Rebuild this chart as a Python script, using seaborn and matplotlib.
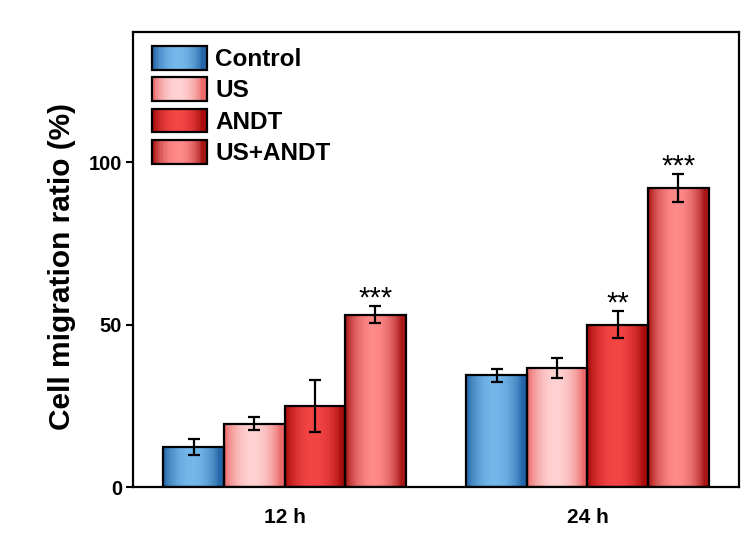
"""
Cell migration ratio bar chart (12 h / 24 h) with shaded cylinder-like bars
"""

import numpy as np
import pandas as pd
import matplotlib
matplotlib.use("Agg")
import matplotlib.pyplot as plt
from matplotlib.patches import Rectangle
from matplotlib.legend_handler import HandlerBase
import seaborn as sns

# ---- data ----
times = ["12 h", "24 h"]
groups = ["Control", "US", "ANDT", "US+ANDT"]
control_mean = [12.3, 34.4]
us_mean = [19.4, 36.6]
andt_mean = [25.0, 50.0]
combo_mean = [53.0, 92.0]
control_sd = [2.5, 2.0]
us_sd = [2.0, 3.2]
andt_sd = [8.0, 4.2]
combo_sd = [2.6, 4.2]
stars_12h = ["", "", "", "***"]
stars_24h = ["", "", "**", "***"]

means = [control_mean, us_mean, andt_mean, combo_mean]
sds = [control_sd, us_sd, andt_sd, combo_sd]
stars = [stars_12h, stars_24h]

# (edge colour, centre colour) for each group's shading
shades = {
    "Control": ("#2466a8", "#74b8ea"),
    "US": ("#ec6a6a", "#ffd2d2"),
    "ANDT": ("#a80c0c", "#f44545"),
    "US+ANDT": ("#a81616", "#ff8a8a"),
}


def shade_row(edge, centre, n=120):
    """Horizontal gradient: dark at the edges, light in the middle"""
    t = np.linspace(0, 1, n)
    k = np.sin(np.pi * np.clip((t - 0.02) / 0.9, 0, 1)) ** 0.7
    e = np.array(matplotlib.colors.to_rgb(edge))
    c = np.array(matplotlib.colors.to_rgb(centre))
    return e[None, :] + (c - e)[None, :] * k[:, None]


class GradientHandler(HandlerBase):
    def __init__(self, edge, centre):
        super().__init__()
        self.edge = edge
        self.centre = centre

    def create_artists(self, legend, orig_handle, xdescent, ydescent,
                       width, height, fontsize, trans):
        cols = shade_row(self.edge, self.centre, 40)
        n = len(cols)
        artists = []
        for i, col in enumerate(cols):
            r = Rectangle((-xdescent + width * i / n, -ydescent), width / n * 1.05, height,
                          facecolor=col, edgecolor="none", transform=trans)
            artists.append(r)
        outline = Rectangle((-xdescent, -ydescent), width, height, facecolor="none",
                            edgecolor="black", lw=1.6, transform=trans)
        artists.append(outline)
        return artists


rows = []
for g, m in zip(groups, means):
    for t, v in zip(times, m):
        rows.append({"time": t, "group": g, "value": v})
df = pd.DataFrame(rows)

sns.set_style("white")
plt.rcParams["font.family"] = ["Liberation Sans", "DejaVu Sans"]
plt.rcParams["font.weight"] = "bold"
plt.rcParams["text.color"] = "black"
plt.rcParams["axes.labelcolor"] = "black"
plt.rcParams["xtick.color"] = "black"
plt.rcParams["ytick.color"] = "black"

fig = plt.figure(figsize=(7.49, 5.5), dpi=100)
ax = fig.add_axes([0.1776, 0.1145, 0.809, 0.8273])

sns.barplot(data=df, x="time", y="value", hue="group", order=times, hue_order=groups,
            palette=[shades[g][1] for g in groups], errorbar=None, width=0.8,
            edgecolor="black", linewidth=1.6, legend=False, ax=ax)

bar_conts = list(ax.containers)
for gi, cont in enumerate(bar_conts):
    edge, centre = shades[groups[gi]]
    grad = shade_row(edge, centre)[None, :, :]
    for ti, bar in enumerate(cont):
        x0, w, h = bar.get_x(), bar.get_width(), bar.get_height()
        bar.set_facecolor("none")
        bar.set_zorder(3)
        im = ax.imshow(grad, extent=[x0, x0 + w, 0, h], aspect="auto",
                       interpolation="bilinear", zorder=2)
        im.set_clip_path(bar)
        xc = x0 + w / 2
        sd = sds[gi][ti]
        ax.errorbar(xc, h, yerr=sd, fmt="none", ecolor="black", elinewidth=1.6,
                    capsize=4, capthick=1.6, zorder=4)
        if stars[ti][gi]:
            ax.text(xc, h + sd - 2.0, stars[ti][gi], ha="center", va="bottom",
                    fontsize=21, fontweight="normal", zorder=5)

ax.set_xlim(-0.5, 1.5)
ax.set_ylim(0, 140)
ax.set_yticks([0, 50, 100])
ax.set_xlabel("")
ax.set_ylabel("Cell migration ratio (%)", fontsize=21.5, fontweight="bold", labelpad=9)
ax.yaxis.label.set_y(0.485)
ax.tick_params(axis="y", direction="out", length=5, width=1.5, pad=3,
               labelsize=14.5, left=True)
ax.tick_params(axis="x", length=0, pad=15, labelsize=15)
for lab in ax.get_xticklabels() + ax.get_yticklabels():
    lab.set_fontweight("bold")
for s in ax.spines.values():
    s.set_linewidth(1.6)
    s.set_color("black")

handles = [Rectangle((0, 0), 1, 1) for _ in groups]
hmap = {h: GradientHandler(*shades[g]) for h, g in zip(handles, groups)}
ax.legend(handles, groups, handler_map=hmap, loc="upper left",
          bbox_to_anchor=((152 - 133) / 606, 1 - (46 - 32) / 455),
          frameon=False, borderaxespad=0, borderpad=0,
          handlelength=2.26, handleheight=1.12, labelspacing=0.26, handletextpad=0.35,
          prop={"size": 17.5, "weight": "bold"})

fig.savefig("out.png", dpi=100)
